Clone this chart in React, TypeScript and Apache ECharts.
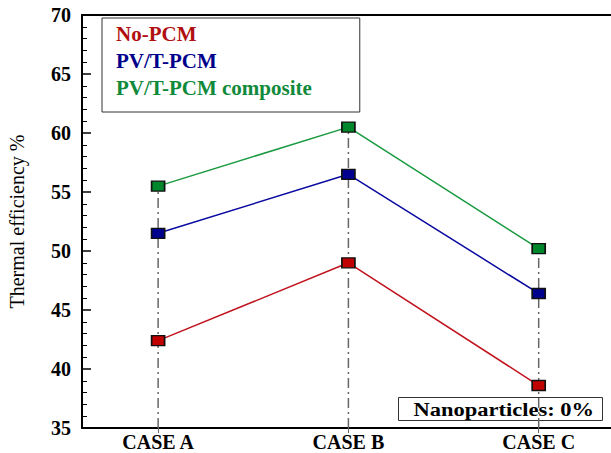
import React, { useEffect, useRef } from "react";
import * as echarts from "echarts";

const categories = ["CASE A", "CASE B", "CASE C"];
const noPcm = [42.4, 49.0, 38.6];
const pvtPcm = [51.5, 56.5, 46.4];
const pvtComposite = [55.5, 60.5, 50.2];
const seriesNames = ["No-PCM", "PV/T-PCM", "PV/T-PCM composite"];
const yMin = 35;
const yMax = 70;
const noteText = "Nanoparticles: 0%";

const FONT = "'Liberation Serif', 'Times New Roman', serif";

export default function App() {
  const ref = useRef<HTMLDivElement>(null);
  useEffect(() => {
    if (!ref.current) return;
    const chart = echarts.init(ref.current, undefined, { renderer: "svg" });
    const mk = (name: string, vals: number[], line: string, fill: string) => ({
      name,
      type: "line",
      data: vals.map((v, i) => [i, v]),
      symbol: "rect",
      symbolSize: [13, 10],
      lineStyle: { color: line, width: 1.5 },
      itemStyle: { color: fill, borderColor: "#111", borderWidth: 1.5 },
      z: 5,
    });
    const guides = categories.map((c, i) => ({
      name: "guide-" + c,
      type: "line",
      data: [
        [i, yMin],
        [i, pvtComposite[i]],
      ],
      symbol: "none",
      lineStyle: { color: "#666", width: 1.5, type: [10, 4, 2, 4] },
      z: 2,
      silent: true,
    }));
    chart.setOption({
      animation: false,
      grid: { left: 82, top: 15, right: 0, bottom: 25, outerBoundsMode: "none", containLabel: false },
      legend: {
        data: [
          { name: seriesNames[0], textStyle: { color: "#b01010" } },
          { name: seriesNames[1], textStyle: { color: "#00008b" } },
          { name: seriesNames[2], textStyle: { color: "#108a3a" } },
        ],
        orient: "vertical",
        left: 102,
        top: 18,
        icon: "none",
        itemWidth: 0,
        itemHeight: 20,
        itemGap: 6,
        padding: [5, 48, 14, 9],
        backgroundColor: "#fff",
        borderColor: "#333",
        borderWidth: 1,
        borderRadius: 0,
        selectedMode: false,
        textStyle: { fontFamily: FONT, fontWeight: "bold", fontSize: 21, lineHeight: 20 },
      },
      xAxis: [
        {
          type: "value",
          min: -0.4,
          max: 2.38,
          splitLine: { show: false },
          axisLine: { onZero: false, lineStyle: { color: "#000", width: 2 } },
          axisTick: { customValues: [0, 1, 2], length: 5, lineStyle: { color: "#666" } },
          axisLabel: {
            customValues: [0, 1, 2],
            formatter: (v: number) => categories[Math.round(v)] ?? "",
            fontFamily: FONT,
            fontWeight: "bold",
            fontSize: 20,
            color: "#000",
            margin: 4,
          },
        },
        {
          type: "value",
          position: "top",
          min: -0.4,
          max: 2.38,
          splitLine: { show: false },
          axisLine: { show: true, onZero: false, lineStyle: { color: "#000", width: 2 } },
          axisTick: { show: false },
          axisLabel: { show: false },
        },
      ],
      yAxis: {
        type: "value",
        min: yMin,
        max: yMax,
        interval: 5,
        name: "Thermal efficiency %",
        nameLocation: "middle",
        nameGap: 55,
        nameTextStyle: { fontFamily: FONT, fontSize: 20, color: "#000" },
        splitLine: { show: false },
        axisLine: { onZero: false, lineStyle: { color: "#000", width: 2 } },
        axisTick: { inside: true, length: 9, lineStyle: { color: "#000", width: 1.5 } },
        minorTick: { show: true, splitNumber: 5, length: 5, lineStyle: { color: "#000", width: 1 } },
        axisLabel: { fontFamily: FONT, fontWeight: "bold", fontSize: 20, color: "#000", margin: 11 },
      },
      graphic: [
        {
          type: "group",
          left: 398,
          top: 397,
          z: 100,
          children: [
            {
              type: "rect",
              shape: { x: 0, y: 0, width: 204, height: 23 },
              style: { fill: "#fff", stroke: "#333", lineWidth: 1 },
            },
            {
              type: "text",
              x: 15,
              y: 12,
              scaleX: 1.25,
              style: {
                text: noteText,
                font: "bold 18px " + FONT,
                fill: "#000",
                verticalAlign: "middle",
              },
            },
          ],
        },
      ],
      series: [
        ...guides,
        mk(seriesNames[0], noPcm, "#c0141e", "#c00000"),
        mk(seriesNames[1], pvtPcm, "#0a0aa0", "#00008f"),
        mk(seriesNames[2], pvtComposite, "#1a9a40", "#00862b"),
      ],
    });
    return () => chart.dispose();
  }, []);
  return (
    <div
      ref={ref}
      style={{ position: "fixed", left: 0, top: 0, width: 611, height: 453, background: "#fff" }}
    />
  );
}
